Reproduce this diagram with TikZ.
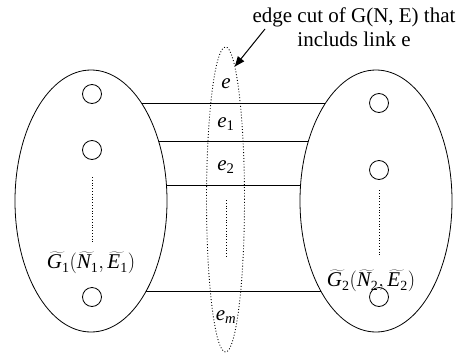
\documentclass[tikz,border=0pt]{standalone}
\usepackage{fontspec}
\setmainfont{Liberation Serif}
\usetikzlibrary{shapes.geometric,arrows.meta,backgrounds}
\newcommand\wt[1]{\widetilde{\mbox{\itshape #1}\kern6pt}\kern-6pt}
\newcommand\sbn[1]{{}_{\mbox{\fontsize{14}{14}\selectfont #1}}}
\begin{document}
\begin{tikzpicture}[x=1pt,y=-1pt,
  blob/.style={draw,fill=white,ellipse,line width=0.8pt,minimum width=152pt,minimum height=262pt,inner sep=0pt,outer sep=0pt},
  cutset/.style={draw,ellipse,dotted,line width=0.9pt,minimum width=38pt,minimum height=305pt,inner sep=0pt,outer sep=0pt},
  vertex/.style={draw,circle,line width=0.8pt,minimum size=19pt,inner sep=0pt},
  link/.style={line width=0.9pt},
  dots/.style={dotted,line width=0.8pt},
  lbl/.style={font=\fontsize{21}{24}\selectfont,inner sep=0pt}]
\useasboundingbox (0,0) rectangle (462,356);
% subgraphs
\node[blob] (L) at (91,201) {};
\node[blob] (R) at (376,201) {};
% links, behind the white-filled subgraphs
\begin{scope}[on background layer]
\draw[link] ([yshift=98pt]L.center) -- ([yshift=98pt]R.center);
\draw[link] ([yshift=60pt]L.center) -- ([yshift=60pt]R.center);
\draw[link] ([yshift=16pt]L.center) -- ([yshift=16pt]R.center);
\draw[link] ([yshift=-90pt]L.center) -- ([yshift=-90pt]R.center);
\end{scope}
% cut ellipse
\node[cutset] (C) at (225.5,199.5) {};
% vertices
\node[vertex] (l1) at (92,94) {};
\node[vertex] (l2) at (92,150) {};
\node[vertex] (l3) at (92,297) {};
\node[vertex] (r1) at (379,103) {};
\node[vertex] (r2) at (379,170) {};
\node[vertex] (r3) at (379,297) {};
% continuation marks
\coordinate (ld1) at (92,177); \coordinate (ld2) at (92,243);
\coordinate (rd1) at (379,190); \coordinate (rd2) at (379,257);
\coordinate (cd1) at (226,200); \coordinate (cd2) at (226,257);
\draw[dots] (ld1) -- (ld2);
\draw[dots] (rd1) -- (rd2);
\draw[dots] (cd1) -- (cd2);
% labels
\node[lbl] (g1) at (91,263) {$\wt{G}\sbn{1}(\wt{N}\sbn{1},\wt{E}\sbn{1})$};
\node[lbl] (g2) at (371,281) {$\wt{G}\sbn{2}(\wt{N}\sbn{2},\wt{E}\sbn{2})$};
\node[lbl] (e0) at (226,84) {\itshape e};
\node[lbl] (e1) at (226,124) {\itshape e\textsubscript{\upshape 1}};
\node[lbl] (e2) at (226,167) {\itshape e\textsubscript{\upshape 2}};
\node[lbl] (em) at (226,317) {\itshape e\textsubscript{m}};
% annotation
\node[lbl,align=center] (T) at (354,27) {edge cut of G(N, E) that\\includs link e};
\coordinate (a0) at (265,29);
\draw[line width=1pt,-{Triangle[length=10pt,width=8pt]}] (a0) -- (C.86.6);
\end{tikzpicture}
\end{document}
